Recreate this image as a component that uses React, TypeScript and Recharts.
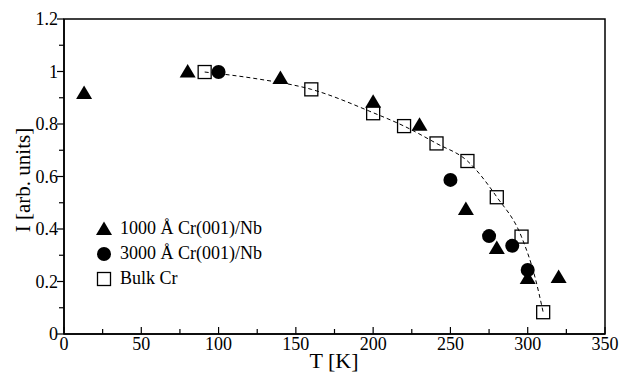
import { ScatterChart, Scatter, XAxis, YAxis, ReferenceArea, Legend } from 'recharts'

const FONT = '"Liberation Serif", "Times New Roman", Times, serif'

// 1000 Å Cr(001)/Nb (filled triangles)
const film1000T = [13, 80, 140, 200, 230, 260, 280, 300, 320]
const film1000I = [0.918, 1.0, 0.975, 0.885, 0.797, 0.476, 0.328, 0.213, 0.217]

// 3000 Å Cr(001)/Nb (filled circles)
const film3000T = [100, 250, 275, 290, 300]
const film3000I = [0.998, 0.587, 0.373, 0.336, 0.244]

// Bulk Cr (open squares)
const bulkT = [91, 160, 200, 220, 241, 261, 280, 296, 310]
const bulkI = [0.998, 0.932, 0.841, 0.792, 0.726, 0.659, 0.521, 0.371, 0.083]

// dashed guide through bulk points
const guideT = [91, 125, 160, 200, 220, 241, 261, 280, 296, 305, 310]
const guideI = [0.998, 0.972, 0.932, 0.843, 0.792, 0.726, 0.659, 0.522, 0.37, 0.21, 0.083]

const xTicks = [0, 25, 50, 75, 100, 125, 150, 175, 200, 225, 250, 275, 300, 325, 350]
const yTicks = [0, 0.1, 0.2, 0.3, 0.4, 0.5, 0.6, 0.7, 0.8, 0.9, 1, 1.1, 1.2]

const zip = (xs: number[], ys: number[]) => xs.map((x, i) => ({ x, y: ys[i] }))

function Triangle({ cx, cy }: any) {
  return <polygon points={`${cx},${cy - 7.5} ${cx + 8},${cy + 6} ${cx - 8},${cy + 6}`} fill="#000" />
}
function Dot({ cx, cy }: any) {
  return <circle cx={cx} cy={cy} r={7} fill="#000" />
}
function Square({ cx, cy }: any) {
  return <rect x={cx - 6.5} y={cy - 6.5} width={13} height={13} fill="#fff" stroke="#000" strokeWidth={1.3} />
}
const Nothing = () => <g />

function XTick({ x, y, payload }: any) {
  const v = payload.value
  const major = v % 50 === 0
  return (
    <g>
      <line x1={x} x2={x} y1={y} y2={y - (major ? 7 : 5)} stroke="#000" strokeWidth={1.2} />
      {major && (
        <text x={x} y={y + 16} textAnchor="middle" fontSize={18} style={{ fontFamily: FONT }} fill="#000">{v}</text>
      )}
    </g>
  )
}

function YTick({ x, y, payload }: any) {
  const v = payload.value
  const major = Math.round(v * 10) % 2 === 0
  return (
    <g>
      <line x1={x - (major ? 7 : 5)} x2={x} y1={y} y2={y} stroke="#000" strokeWidth={1.2} />
      {major && (
        <text x={x - 6} y={y + 6} textAnchor="end" fontSize={18} style={{ fontFamily: FONT }} fill="#000">
          {String(Math.round(v * 10) / 10)}
        </text>
      )}
    </g>
  )
}

const legendRows = [
  { name: '1000 Å Cr(001)/Nb', Shape: Triangle },
  { name: '3000 Å Cr(001)/Nb', Shape: Dot },
  { name: 'Bulk Cr', Shape: Square },
]

function LegendBox() {
  return (
    <div style={{ fontFamily: FONT, fontSize: 18, color: '#000' }}>
      {legendRows.map(({ name, Shape }) => (
        <div key={name} style={{ display: 'flex', alignItems: 'center', height: 25 }}>
          <svg width={20} height={20} style={{ marginRight: 6 }}>
            <Shape cx={10} cy={10} />
          </svg>
          <span style={{ whiteSpace: 'nowrap' }}>{name}</span>
        </div>
      ))}
    </div>
  )
}

export default function App() {
  return (
    <div style={{ position: 'absolute', left: 0, top: 0, width: 621, height: 374, background: '#fff' }}>
      <ScatterChart width={621} height={374} margin={{ top: 19, right: 16, bottom: 0, left: 0 }}>
        <XAxis
          type="number"
          dataKey="x"
          domain={[0, 350]}
          ticks={xTicks}
          interval={0}
          tickSize={0}
          tickMargin={0}
          tickLine={false}
          tick={<XTick />}
          height={40}
          axisLine={{ stroke: '#000', strokeWidth: 1.5 }}
          label={{
            content: () => (
              <text x={334} y={368} textAnchor="middle" fontSize={22} style={{ fontFamily: FONT }} fill="#000">T [K]</text>
            ),
          }}
        />
        <YAxis
          type="number"
          dataKey="y"
          domain={[0, 1.2]}
          ticks={yTicks}
          interval={0}
          tickSize={0}
          tickMargin={0}
          tickLine={false}
          tick={<YTick />}
          width={64}
          axisLine={{ stroke: '#000', strokeWidth: 1.5 }}
          label={{
            content: () => (
              <text
                transform="translate(30,180) rotate(-90)"
                textAnchor="middle"
                fontSize={21}
                style={{ fontFamily: FONT }}
                fill="#000"
              >
                I [arb. units]
              </text>
            ),
          }}
        />
        <ReferenceArea x1={0} x2={350} y1={0} y2={1.2} fill="none" stroke="#000" strokeWidth={1.5} />
        <Scatter name="Bulk Cr" data={zip(bulkT, bulkI)} shape={<Square />} isAnimationActive={false} />
        <Scatter
          data={zip(guideT, guideI)}
          shape={<Nothing />}
          line={{ stroke: '#000', strokeWidth: 1, strokeDasharray: '4 3' }}
          lineJointType="monotoneX"
          legendType="none"
          isAnimationActive={false}
        />
        <Scatter name="1000 Å Cr(001)/Nb" data={zip(film1000T, film1000I)} shape={<Triangle />} isAnimationActive={false} />
        <Scatter name="3000 Å Cr(001)/Nb" data={zip(film3000T, film3000I)} shape={<Dot />} isAnimationActive={false} />
        <Legend
          layout="vertical"
          align="center"
          verticalAlign="middle"
          content={<LegendBox />}
          wrapperStyle={{ left: 94, top: 216, width: 'auto' }}
        />
      </ScatterChart>
    </div>
  )
}
